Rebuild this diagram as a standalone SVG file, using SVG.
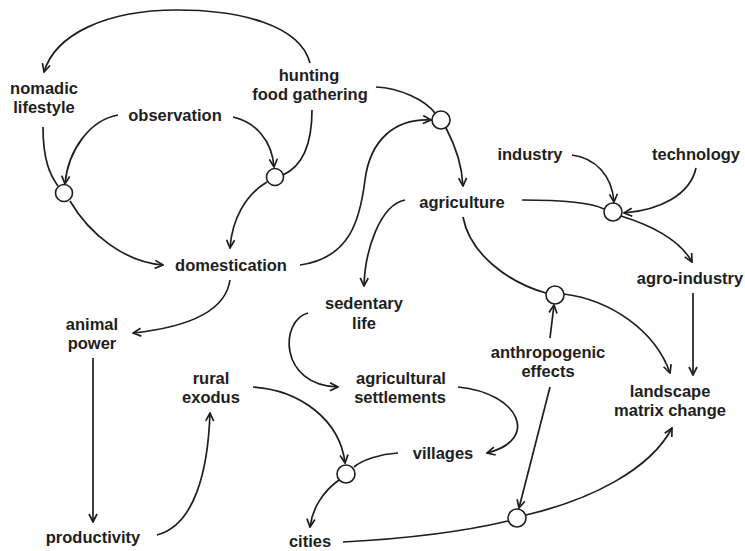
<svg xmlns="http://www.w3.org/2000/svg" width="745" height="551" viewBox="0 0 745 551">
<style>
text{font-family:"Liberation Sans",Arial,sans-serif;font-weight:bold;font-size:16.5px;fill:#1e1e1e;text-anchor:middle}
.c{fill:#fff;stroke:#1e1e1e;stroke-width:1.6}
.l{fill:none;stroke:#1e1e1e;stroke-width:1.7}
.a{marker-end:url(#ar)}
</style>
<defs>
<marker id="ar" viewBox="0 0 10 10" refX="9" refY="5" markerWidth="10" markerHeight="10" markerUnits="userSpaceOnUse" orient="auto">
<path d="M1,1 L9,5 L1,9" fill="none" stroke="#1e1e1e" stroke-width="1.7"/>
</marker>
</defs>
<rect width="745" height="551" fill="#fff"/>
<g id="connectors">
<path class="l a" d="M310,63 C300,25 240,10 177,10 C105,10 55,35 44,72"/>
<path class="l" d="M43,127 C43,160 50,175 58,186"/>
<path class="l a" d="M118,115 C90,120 68,150 65,184"/>
<path class="l a" d="M233,117 C255,122 272,140 274,167"/>
<path class="l" d="M312,110 C312,140 305,165 283,175"/>
<path class="l a" d="M70,201 C90,235 125,262 163,265"/>
<path class="l a" d="M267,182 C245,195 232,220 230,248"/>
<path class="l a" d="M300,265 C350,258 360,220 365,180 C370,140 395,118 431,120"/>
<path class="l" d="M376,87 C400,88 425,100 435,113"/>
<path class="l a" d="M446,128 C455,145 462,165 463,186"/>
<path class="l a" d="M405,200 C380,205 365,250 364,286"/>
<path class="l" d="M522,200 C560,200 590,202 604,209"/>
<path class="l a" d="M572,155 C595,158 612,175 614,202"/>
<path class="l a" d="M696,168 C690,195 660,210 624,213"/>
<path class="l a" d="M621,216 C650,225 680,240 692,262"/>
<path class="l a" d="M693,293 L693,375"/>
<path class="l" d="M463,217 C470,255 510,283 546,293"/>
<path class="l a" d="M564,294 C610,300 655,330 670,373"/>
<path class="l a" d="M550,338 L554,305"/>
<path class="l a" d="M550,387 L519,508"/>
<path class="l" d="M343,542 C420,538 470,530 508,521"/>
<path class="l a" d="M526,515 C590,500 650,470 672,428"/>
<path class="l" d="M398,453 C380,454 362,460 354,467"/>
<path class="l a" d="M339,480 C322,492 312,510 310,527"/>
<path class="l a" d="M253,387 C300,390 340,420 345,463"/>
<path class="l a" d="M157,535 C195,525 208,470 210,413"/>
<path class="l a" d="M93,358 L93,522"/>
<path class="l a" d="M230,280 C225,315 180,328 133,333"/>
<path class="l a" d="M308,313 C280,320 278,385 338,387"/>
<path class="l a" d="M458,387 C520,393 540,440 487,453"/>
</g>
<g id="j1"><circle class="c" cx="64" cy="193" r="8.5"/></g>
<g id="j2"><circle class="c" cx="275" cy="177" r="8.5"/></g>
<g id="j3"><circle class="c" cx="441" cy="120" r="9"/></g>
<g id="j4"><circle class="c" cx="613" cy="212" r="9"/></g>
<g id="j5"><circle class="c" cx="555" cy="295" r="9"/></g>
<g id="j6"><circle class="c" cx="517" cy="518" r="9"/></g>
<g id="j7"><circle class="c" cx="346" cy="474" r="9"/></g>
<g id="nomadic"><text x="44" y="94">nomadic</text><text x="44" y="113">lifestyle</text></g>
<g id="hunting"><text x="309" y="81">hunting</text><text x="310" y="100">food gathering</text></g>
<g id="observation"><text x="175" y="121">observation</text></g>
<g id="domestication"><text x="231" y="271">domestication</text></g>
<g id="agriculture"><text x="462" y="208">agriculture</text></g>
<g id="industry"><text x="530" y="160">industry</text></g>
<g id="technology"><text x="696" y="160">technology</text></g>
<g id="agroindustry"><text x="690" y="284">agro-industry</text></g>
<g id="landscape"><text x="670" y="397">landscape</text><text x="670" y="416">matrix change</text></g>
<g id="anthropogenic"><text x="548" y="358">anthropogenic</text><text x="548" y="377">effects</text></g>
<g id="sedentary"><text x="364" y="309">sedentary</text><text x="364" y="329">life</text></g>
<g id="settlements"><text x="401" y="384">agricultural</text><text x="400" y="403">settlements</text></g>
<g id="villages"><text x="443" y="459">villages</text></g>
<g id="cities"><text x="310" y="547">cities</text></g>
<g id="rural"><text x="211" y="384">rural</text><text x="211" y="403">exodus</text></g>
<g id="productivity"><text x="93" y="543">productivity</text></g>
<g id="animal"><text x="92" y="330">animal</text><text x="92" y="349">power</text></g>
</svg>
